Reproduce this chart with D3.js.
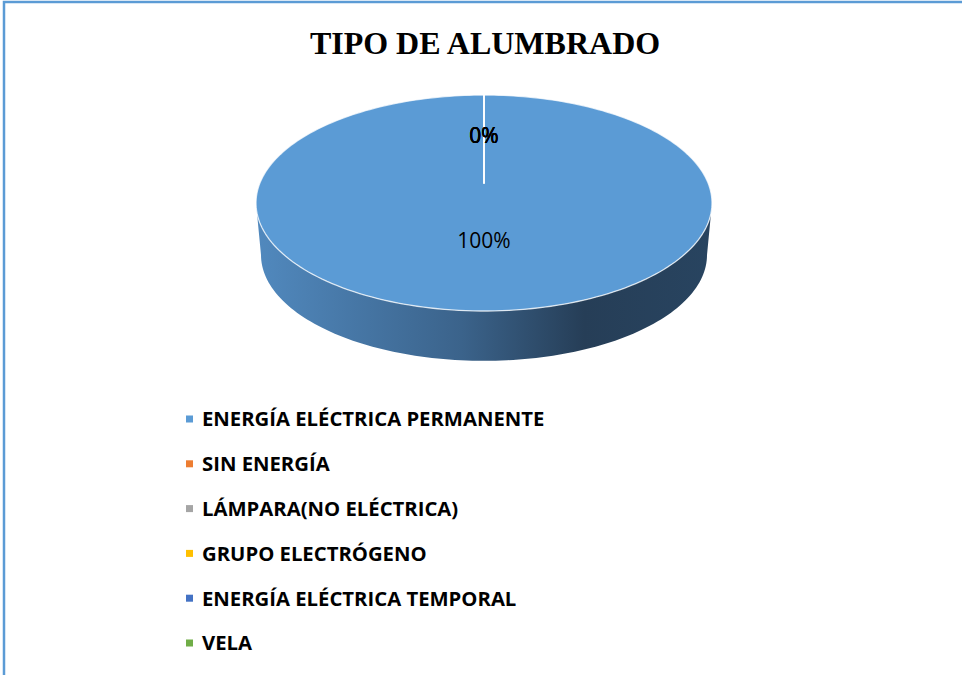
<!DOCTYPE html>
<html><head><meta charset="utf-8">
<script src="https://d3js.org/d3.v7.min.js"></script>
<style>body{margin:0;background:#fff}</style>
</head><body>
<svg id="c" width="962" height="675"></svg>
<script>
const title = "TIPO DE ALUMBRADO";
const categories = ["ENERGÍA ELÉCTRICA PERMANENTE","SIN ENERGÍA","LÁMPARA(NO ELÉCTRICA)","GRUPO ELECTRÓGENO","ENERGÍA ELÉCTRICA TEMPORAL","VELA"];
const values = [100, 0, 0, 0, 0, 0];
const colors = ["#5B9BD5","#ED7D31","#A5A5A5","#FFC000","#4472C4","#70AD47"];

const svg = d3.select("#c");
const W = 962, H = 675;

// chart border
svg.append("rect").attr("x",4).attr("y",2).attr("width",W+10).attr("height",H+10)
  .attr("fill","none").attr("stroke","#5B9BD5").attr("stroke-width",2.5);

svg.append("text").attr("x",485).attr("y",54).attr("text-anchor","middle")
  .attr("font-family","'Liberation Serif','Times New Roman',serif").attr("font-weight","bold")
  .attr("font-size",32).attr("fill","#000").text(title);

// 3D pie geometry
const cx = 484, cy = 203, rx = 228, ry = 108, depth = 52, persp = -0.185;
const cpers = Math.sqrt(1 - persp*persp);
function proj(u, v) { // unit-disc point -> screen, with perspective
  const w = 1 + persp*v;
  return [cx + rx*(u*cpers/w), cy + ry*((v + persp)/w)];
}
const total = d3.sum(values);
const pie = d3.pie().sort(null).value(d => d)(values);

const defs = svg.append("defs");
const g = defs.append("linearGradient").attr("id","side").attr("x1","0").attr("x2","1").attr("y1","0").attr("y2","0");
[[0,"#5189BE"],[0.45,"#3B638B"],[0.72,"#263E57"],[1,"#284460"]].forEach(s=>g.append("stop").attr("offset",s[0]).attr("stop-color",s[1]));

// side wall (front half of outline)
const line = d3.line();
const N = 120;
const topFront = d3.range(N+1).map(i => { const t = Math.PI*i/N; return [cx - rx*Math.cos(t), cy + ry*Math.sin(t)]; });
const rx2 = rx - 5;
const botFront = d3.range(N+1).map(i => { const t = Math.PI*i/N; return [cx - rx2*Math.cos(t), cy + depth + ry*0.98*Math.sin(t)]; }).reverse();
svg.append("path").attr("d", line(topFront.concat(botFront)) + "Z").attr("fill","url(#side)");

// top slices
const slices = svg.append("g");
pie.forEach((p, i) => {
  const n = Math.max(1, Math.ceil((p.endAngle - p.startAngle)/(2*Math.PI)*240));
  const pts = [proj(0,0)];
  for (let k = 0; k <= n; k++) {
    const a = p.startAngle + (p.endAngle - p.startAngle)*k/n;
    pts.push(proj(Math.sin(a), -Math.cos(a)));
  }
  slices.append("path").attr("d", line(pts) + "Z").attr("fill", colors[i])
    .attr("stroke","#fff").attr("stroke-opacity",0.75).attr("stroke-width",1.3).attr("stroke-linejoin","round");
});

// data labels
pie.forEach((p, i) => {
  const a = (p.startAngle + p.endAngle)/2;
  const [x, y] = proj(0.5*Math.sin(a), -0.5*Math.cos(a));
  svg.append("text").attr("x", x).attr("y", y).attr("dy","0.36em").attr("text-anchor","middle")
    .attr("font-family","'Open Sans',sans-serif").attr("font-size",21).attr("fill","#000")
    .text(Math.round(p.data/total*100) + "%");
});

// legend
const lg = svg.append("g");
categories.forEach((c, i) => {
  const y = 419 + i*44.8;
  lg.append("rect").attr("x",186).attr("y",y-3.5).attr("width",7).attr("height",7).attr("fill",colors[i]);
  lg.append("text").attr("x",202).attr("y",y).attr("dy","0.36em")
    .attr("font-family","'Open Sans',sans-serif").attr("font-weight","bold").attr("font-size",20.3).attr("fill","#000")
    .text(c);
});
</script>
</body></html>
